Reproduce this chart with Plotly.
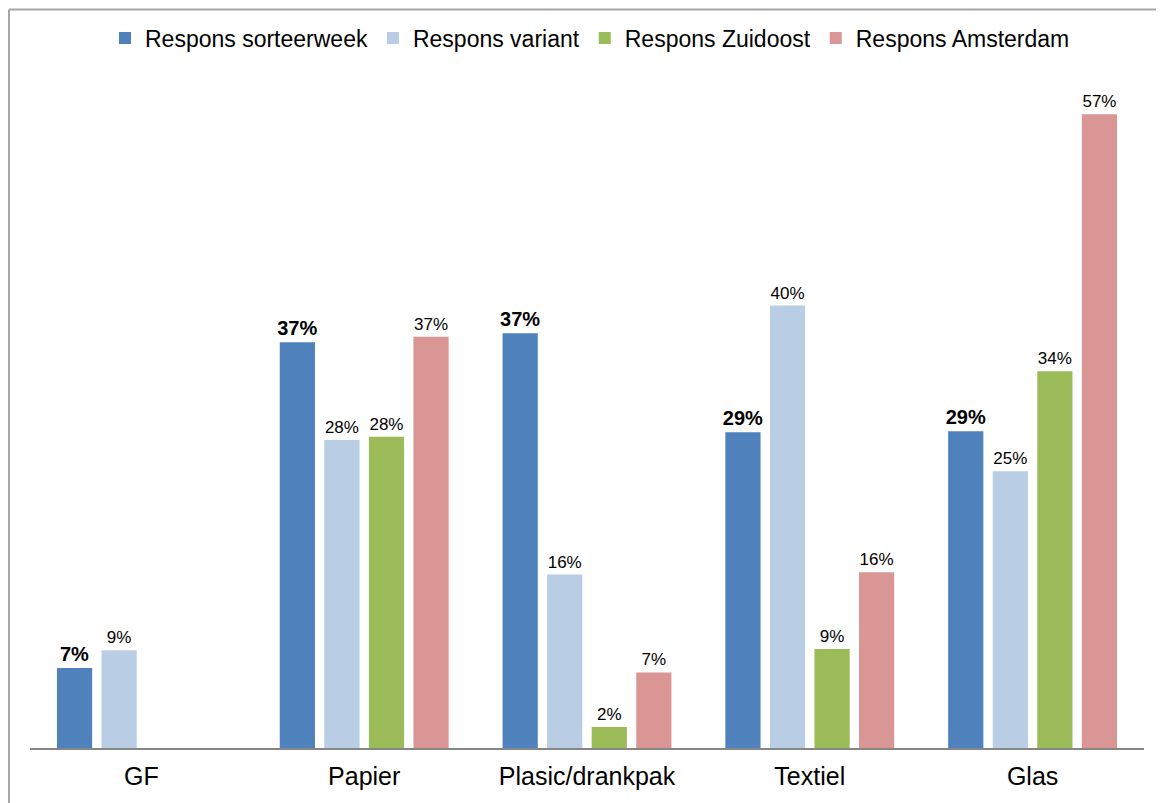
import plotly.graph_objects as go

categories = ["GF", "Papier", "Plasic/drankpak", "Textiel", "Glas"]

series_names = ["Respons sorteerweek", "Respons variant", "Respons Zuidoost", "Respons Amsterdam"]

sorteerweek = [7.2, 36.5, 37.3, 28.4, 28.5]
variant = [8.8, 27.7, 15.6, 39.8, 24.9]
zuidoost = [None, 28.0, 1.9, 8.9, 33.9]
amsterdam = [None, 37.0, 6.8, 15.8, 57.0]

labels_sorteerweek = ["7%", "37%", "37%", "29%", "29%"]
labels_variant = ["9%", "28%", "16%", "40%", "25%"]
labels_zuidoost = ["", "28%", "2%", "9%", "34%"]
labels_amsterdam = ["", "37%", "7%", "16%", "57%"]

colors = ["#4F81BD", "#B9CDE5", "#9BBB59", "#D99694"]

FONT = "Liberation Sans, Arial, sans-serif"

# page body has an 8px margin: figure is sized to fit inside the window
W, H = 1156, 795
L, R, T, B = 22, 20, 73, 55
PW, PH = W - L - R, H - T - B

fig = go.Figure()
data = [
    (sorteerweek, labels_sorteerweek, True),
    (variant, labels_variant, False),
    (zuidoost, labels_zuidoost, False),
    (amsterdam, labels_amsterdam, False),
]
for (vals, labs, bold), name, col in zip(data, series_names, colors):
    fig.add_trace(go.Bar(
        x=categories, y=vals, name=name,
        marker=dict(color=col, line=dict(width=0)),
        text=[("<b>%s</b>" % t if (bold and t) else t) for t in labs],
        textposition="outside",
        constraintext="none",
        cliponaxis=False,
        textfont=dict(family=FONT, size=20 if bold else 17, color="#000000"),
        hoverinfo="x+y+name",
    ))

fig.update_layout(
    width=W, height=H,
    barmode="group",
    bargap=0.2,
    bargroupgap=0.21,
    paper_bgcolor="white",
    plot_bgcolor="white",
    margin=dict(l=L, r=R, t=T, b=B, autoexpand=False),
    font=dict(family=FONT, color="#000000"),
    showlegend=True,
    legend=dict(
        orientation="h", x=(582 - L) / PW, xanchor="center",
        y=(H - B - 30) / PH, yanchor="middle",
        font=dict(family=FONT, size=23, color="#000000"),
        itemclick=False, itemdoubleclick=False,
        traceorder="normal",
    ),
    xaxis=dict(
        showgrid=False, showline=True, linecolor="#868686", linewidth=1.5,
        ticks="", tickfont=dict(family=FONT, size=25, color="#000000"),
        ticklabelstandoff=5,
    ),
    yaxis=dict(
        range=[0, 60], showgrid=False, showline=False, zeroline=False,
        showticklabels=False, ticks="",
    ),
)

# outer chart border (top/left gray, faint right)
xl = (1 - L) / PW
xr = (W - 3 - L) / PW
yt = (H - B - 1.5) / PH
fig.add_shape(type="line", xref="paper", yref="paper",
              x0=xl, x1=(W - L) / PW, y0=yt, y1=yt,
              line=dict(color="#a6a6a6", width=2))
fig.add_shape(type="line", xref="paper", yref="paper",
              x0=xl, x1=xl, y0=yt, y1=-B / PH,
              line=dict(color="#a6a6a6", width=2))
fig.add_shape(type="line", xref="paper", yref="paper",
              x0=xr, x1=xr, y0=yt, y1=-B / PH,
              line=dict(color="#e6e6e6", width=1))

fig.write_html("out.html")
